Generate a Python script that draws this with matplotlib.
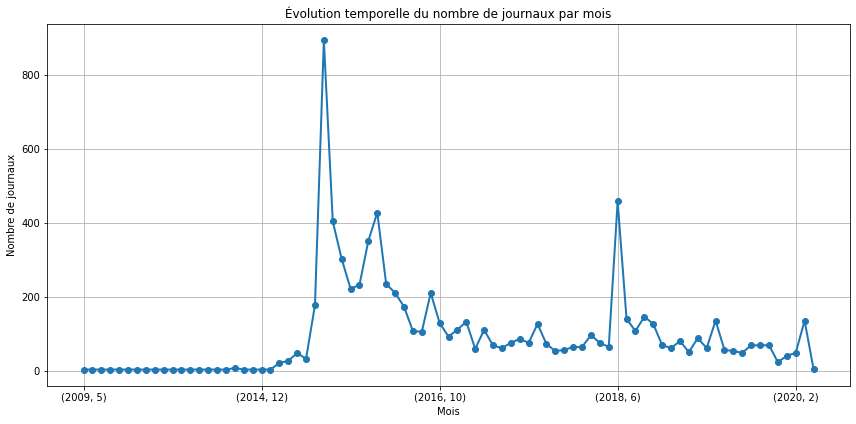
import matplotlib
matplotlib.use("Agg")
import matplotlib.pyplot as plt

values = [3, 3, 3, 3, 3, 3, 3, 3, 3, 3,
          3, 3, 3, 3, 3, 3, 3, 7, 3, 3,
          3, 3, 21, 26, 48, 32, 177, 892, 403, 302,
          221, 232, 351, 427, 234, 210, 173, 107, 105, 210,
          129, 92, 111, 132, 59, 110, 68, 61, 75, 86,
          75, 126, 72, 53, 56, 64, 64, 96, 75, 64,
          457, 140, 107, 146, 126, 69, 61, 80, 50, 88,
          61, 135, 56, 53, 48, 69, 68, 69, 23, 40,
          48, 135, 5]
tick_positions = [0, 20, 40, 60, 80]
tick_labels = ["(2009, 5)", "(2014, 12)", "(2016, 10)", "(2018, 6)", "(2020, 2)"]

W, H = 856, 424
fig = plt.figure(figsize=(W / 72, H / 72), dpi=72)
ax = fig.add_axes([47 / W, 1 - 386 / H, (850 - 47) / W, (386 - 24) / H])

x = list(range(len(values)))
ax.plot(x, values, marker="o", color="#1f77b4", linewidth=2, markersize=6)
ax.set_xticks(tick_positions)
ax.set_xticklabels(tick_labels)
ax.grid(True)
ax.set_title("Évolution temporelle du nombre de journaux par mois")
ax.set_xlabel("Mois")
ax.set_ylabel("Nombre de journaux")

fig.savefig("out.png", dpi=72)
